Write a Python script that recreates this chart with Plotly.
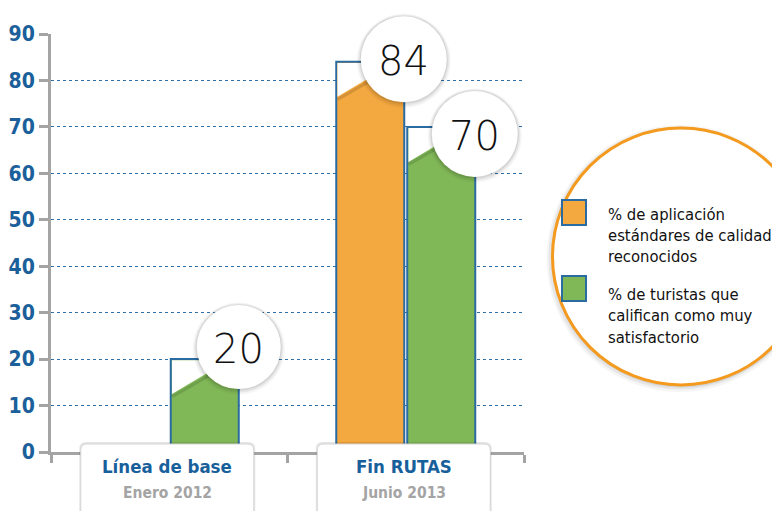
import plotly.graph_objects as go

# ---------------- data ----------------
categories = ["Línea de base", "Fin RUTAS"]
subtitles = ["Enero 2012", "Junio 2013"]
series_names = ["% de aplicación estándares de calidad reconocidos",
                "% de turistas que califican como muy satisfactorio"]
orange_values = [None, 84]
green_values = [20, 70]
y_ticks = [0, 10, 20, 30, 40, 50, 60, 70, 80, 90]
legend_lines_orange = ["% de aplicación", "estándares de calidad", "reconocidos"]
legend_lines_green = ["% de turistas que", "califican como muy", "satisfactorio"]

# ---------------- style / layout ----------------
W, H = 780, 511          # target page size
OFF = 8                  # default body margin of the html page
ML, MR, MT, MB = 51, 256, 34, 59   # plot area in page pixels
PW, PH = W - ML - MR, H - MT - MB
XR = [-0.5, 1.5]
YR = [0, 90]
UNIT = PW / (XR[1] - XR[0])
BW = 68 / UNIT
GAP = 3 / UNIT

ORANGE = "#F4A840"
GREEN = "#80B857"
BLUE_LINE = "#2A6BA1"
TICK_BLUE = "#1B609A"
GRAY = "#A4A4A4"
COND = "DejaVu Sans Condensed, Roboto, sans-serif"
THIN = "DejaVu Sans, sans-serif"

circle_offsets = [[None, (-0.5, 2.5)], [(0, 12), (-0.5, -7)]]
circle_r = [[None, 43], [42, 43]]


def px2paper_x(px):
    return (px - ML) / PW


def px2paper_y(py):
    return (H - MB - py) / PH


fig = go.Figure()
series = [(orange_values, ORANGE, -BW - GAP / 2), (green_values, GREEN, GAP / 2)]
for si, (vals, col, off) in enumerate(series):
    fig.add_trace(go.Bar(
        x=list(range(len(categories))), y=vals, width=BW, offset=off,
        marker=dict(color=col, line=dict(color=BLUE_LINE, width=2)),
        name=series_names[si], showlegend=False, hoverinfo="skip"))

shapes = []
annotations = []

for si, (vals, col, off) in enumerate(series):
    for ci, v in enumerate(vals):
        if v is None:
            continue
        left = ci + off
        shapes.append(dict(type="path", xref="x", yref="y", xsizemode="pixel", ysizemode="pixel",
                           xanchor=left, yanchor=v,
                           path="M 1.5,-37.5 L 60,-4",
                           line=dict(color="rgba(0,0,0,0.13)", width=3)))
        shapes.append(dict(type="path", xref="x", yref="y", xsizemode="pixel", ysizemode="pixel",
                           xanchor=left, yanchor=v,
                           path="M 1.2,-1.2 L 1.2,-35 L 58,-1.2 Z",
                           fillcolor="white", line=dict(width=0)))

for si, (vals, col, off) in enumerate(series):
    for ci, v in enumerate(vals):
        if v is None:
            continue
        right = ci + off + BW
        dx, dy = circle_offsets[si][ci]
        r = circle_r[si][ci]
        ya = (v - YR[0]) / (YR[1] - YR[0])
        for extra, alpha, sh in [(4, 0.04, -1.5), (2.5, 0.06, -1), (1.2, 0.08, -0.5)]:
            shapes.append(dict(type="circle", xref="x", yref="paper", xsizemode="pixel", ysizemode="pixel",
                               xanchor=right, yanchor=ya,
                               x0=dx - r - extra, x1=dx + r + extra,
                               y0=dy + sh - r - extra, y1=dy + sh + r + extra,
                               fillcolor=f"rgba(0,0,0,{alpha})", line=dict(width=0)))
        shapes.append(dict(type="circle", xref="x", yref="paper", xsizemode="pixel", ysizemode="pixel",
                           xanchor=right, yanchor=ya,
                           x0=dx - r, x1=dx + r, y0=dy - r, y1=dy + r,
                           fillcolor="white", line=dict(width=0)))
        annotations.append(dict(x=right, y=v, xref="x", yref="y", text=str(v), showarrow=False,
                                xshift=dx, yshift=dy - 2, xanchor="center", yanchor="middle",
                                font=dict(family=THIN, size=40, color="#111111", weight=200)))


def rrect(x0, x1, ytop, ybot, rad):
    return (f"M {x0},{ybot} L {x0},{ytop - rad} Q {x0},{ytop} {x0 + rad},{ytop} "
            f"L {x1 - rad},{ytop} Q {x1},{ytop} {x1},{ytop - rad} L {x1},{ybot} Z")


for ci, cat in enumerate(categories):
    shapes.append(dict(type="path", xref="x", yref="paper", xsizemode="pixel", ysizemode="pixel",
                       xanchor=ci, yanchor=0, path=rrect(-90, 86, 10, -80, 7),
                       fillcolor="rgba(0,0,0,0.10)", line=dict(width=0)))
    shapes.append(dict(type="path", xref="x", yref="paper", xsizemode="pixel", ysizemode="pixel",
                       xanchor=ci, yanchor=0, path=rrect(-88.5, 84.5, 8, -80, 6),
                       fillcolor="white", line=dict(color="#D4D4D4", width=1)))
    annotations.append(dict(x=ci, y=0, xref="x", yref="y", text=f"<b>{cat}</b>", showarrow=False,
                            xshift=-2, yshift=-14, xanchor="center", yanchor="middle",
                            font=dict(family=COND, size=18.5, color="#17609B")))
    annotations.append(dict(x=ci, y=0, xref="x", yref="y", text=f"<b>{subtitles[ci]}</b>", showarrow=False,
                            xshift=-2, yshift=-41, xanchor="center", yanchor="middle",
                            font=dict(family=COND, size=15.5, color=GRAY)))

lcx, lcy, lr = 681, 256.5, 128.5
for extra, alpha, sx, sy in [(5, 0.04, -1, -2), (3, 0.06, -1, -1.5), (1.5, 0.08, 0, -1)]:
    shapes.append(dict(type="circle", xref="paper", yref="paper", xsizemode="pixel", ysizemode="pixel",
                       xanchor=px2paper_x(lcx), yanchor=px2paper_y(lcy),
                       x0=sx - lr - extra, x1=sx + lr + extra, y0=sy - lr - extra, y1=sy + lr + extra,
                       fillcolor=f"rgba(0,0,0,{alpha})", line=dict(width=0)))
shapes.append(dict(type="circle", xref="paper", yref="paper", xsizemode="pixel", ysizemode="pixel",
                   xanchor=px2paper_x(lcx), yanchor=px2paper_y(lcy),
                   x0=-lr, x1=lr, y0=-lr, y1=lr,
                   fillcolor="white", line=dict(color="#F39A1F", width=3)))

legend_items = [(ORANGE, 212.5, legend_lines_orange, [214, 235.5, 256]),
                (GREEN, 288.5, legend_lines_green, [294, 315.5, 337])]
for li, (col, sq_y, lines, ys) in enumerate(legend_items):
    shapes.append(dict(type="rect", xref="paper", yref="paper",
                       x0=px2paper_x(562), x1=px2paper_x(586),
                       y0=px2paper_y(sq_y + 12.5), y1=px2paper_y(sq_y - 12.5),
                       fillcolor=col, line=dict(color=BLUE_LINE, width=2)))
    for txt, yy in zip(lines, ys):
        annotations.append(dict(x=px2paper_x(606), y=px2paper_y(yy), xref="paper", yref="paper",
                                text=txt, showarrow=False, xanchor="left", yanchor="middle",
                                font=dict(family=COND, size=16.5, color="#111111")))

fig.update_layout(
    width=W - OFF, height=H - OFF, autosize=False,
    margin=dict(l=ML - OFF, r=MR, t=MT - OFF, b=MB, pad=0),
    paper_bgcolor="white", plot_bgcolor="white",
    barmode="overlay",
    shapes=shapes, annotations=annotations,
    showlegend=False,
    xaxis=dict(range=XR, automargin=False, showgrid=False, zeroline=False, showline=True, linecolor=GRAY,
               linewidth=3, tickvals=[-0.5, 0.5, 1.5], ticks="outside", ticklen=8, tickwidth=3,
               tickcolor=GRAY, showticklabels=False, fixedrange=True),
    yaxis=dict(range=YR, automargin=False, tickvals=y_ticks, showgrid=True, gridcolor="#2F70A8",
               griddash="dot", gridwidth=1, zeroline=False, showline=True, linecolor=GRAY, linewidth=3,
               ticks="outside", ticklen=9, tickwidth=3, tickcolor=GRAY,
               tickfont=dict(family=COND, size=21, color=TICK_BLUE, weight="bold"), fixedrange=True),
)

fig.write_html("out.html")
